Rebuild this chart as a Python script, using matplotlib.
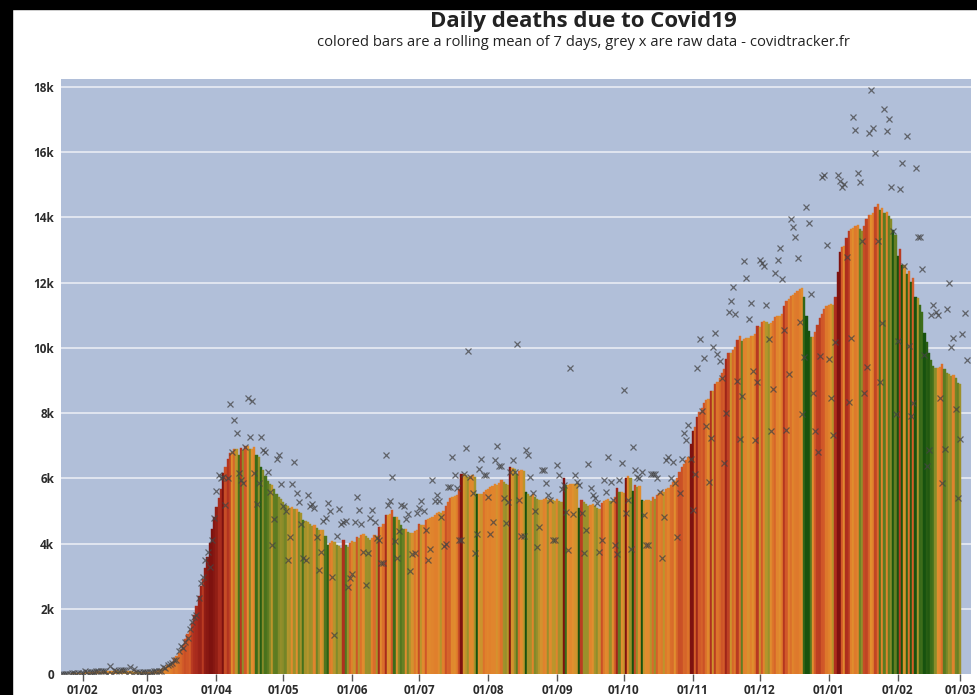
import pandas as pd
import numpy as np
import matplotlib
matplotlib.use("Agg")
import matplotlib.pyplot as plt
import matplotlib.dates as mdates
from matplotlib.colors import LinearSegmentedColormap, Normalize
from matplotlib.patches import Rectangle

# Raw daily deaths (worldwide), one list per month
jan20 = [17, 1, 8, 16, 14, 26, 49, 2, 38, 42]  # from 22/01
feb20 = [46, 103, 64, 66, 72, 70, 85, 87, 100, 107, 100, 5, 254, 13, 143, 107, 100, 136, 115, 125,
         4, 207, 11, 160, 80, 62, 45, 57, 64]
mar20 = [58, 69, 72, 85, 95, 104, 102, 230, 200, 280, 320, 350, 440, 420, 700, 860, 800, 1000, 1100,
         1400, 1600, 1760, 1800, 2320, 2780, 2990, 3500, 3750, 3300, 4110, 4790]
apr20 = [5600, 6100, 6000, 6050, 5180, 6000, 8280, 6815, 7790, 7400, 6160, 5950, 5850, 6970, 8470,
         7275, 8380, 6160, 5230, 5850, 7275, 6870, 6815, 6200, 5590, 3960, 4750, 6590, 6710, 5825]
may20 = [5150, 5000, 3500, 4210, 5825, 6490, 5550, 5290, 4600, 3560, 3500, 5490, 5160, 5230, 5100,
         4190, 3190, 3750, 4700, 4790, 5250, 5000, 2990, 1200, 4240, 5050, 4600, 4650, 4700, 2680, 2950]
jun20 = [3060, 4670, 5440, 5030, 4590, 3740, 2730, 3700, 4780, 5030, 4650, 4170, 4100, 3420, 3400,
         6710, 5180, 5300, 6050, 4070, 3550, 4400, 5200, 5150, 4750, 4900, 3170, 3680, 3700, 4930]
jul20 = [5090, 5300, 5000, 4420, 3500, 3850, 5950, 5300, 5500, 5300, 4830, 3930, 4000, 5730, 5730,
         6660, 6100, 5700, 4100, 4100, 6150, 6940, 9900, 6050, 5540, 3700, 4300, 6300, 6610, 6100, 6100]
aug20 = [5440, 4310, 4670, 6560, 6990, 6380, 6380, 5390, 4620, 5290, 6200, 6560, 6200, 10130, 5340,
         4240, 4240, 6870, 6720, 6050, 5540, 5000, 3900, 4500, 6260, 6260, 5870, 5490, 5340, 4100, 4100]
sep20 = [6410, 6100, 5690, 5800, 4980, 3800, 9370, 4900, 6100, 5900, 5800, 4930, 3700, 4420, 6430,
         5700, 5500, 5400, 5240, 3750, 4110, 5950, 5590, 6660, 5900, 5340, 3960, 3680, 5950, 6460]
oct20 = [8700, 4930, 5340, 3850, 6950, 6260, 6050, 6000, 6200, 4875, 3950, 3950, 6150, 6150, 6150,
         6000, 5590, 3550, 4830, 6560, 6660, 6000, 6500, 5850, 4210, 5540, 6600, 7390, 7180, 7645, 6610]
nov20 = [5030, 6125, 9370, 10280, 8060, 9680, 7614, 5890, 7250, 10020, 10470, 9820, 9610, 9090, 6460,
         7990, 11090, 11440, 11880, 11040, 8990, 7210, 8525, 12660, 12140, 10900, 11390, 9300, 7180, 8940]
dec20 = [12700, 12600, 12500, 11300, 10280, 7460, 8730, 12290, 12700, 13050, 12100, 10540, 7490, 9200,
         13950, 13710, 13400, 12760, 10800, 7960, 9710, 14310, 13820, 11650, 8630, 7440, 6800, 9760,
         15250, 15290, 13150]
jan21 = [9670, 8450, 7320, 10170, 15290, 15110, 14930, 15020, 12790, 8330, 10290, 17080, 16680, 15350,
         15090, 13270, 8630, 9400, 16600, 17890, 16740, 15980, 13270, 8960, 10770, 17310, 16640, 17020,
         14935, 13570, 7970]
feb21 = [10200, 14875, 15680, 12500, 16480, 10060, 7910, 8300, 15500, 13410, 13410, 12430, 9790, 6370,
         6870, 11000, 11300, 11100, 11000, 8470, 5850, 6900, 11190, 11980, 10030, 10290, 8120, 5390]
mar21 = [7220, 10440, 11070, 9640]

start_date = "2020-01-22"
y_ticks = [0, 2000, 4000, 6000, 8000, 10000, 12000, 14000, 16000, 18000]
y_labels = ["0", "2k", "4k", "6k", "8k", "10k", "12k", "14k", "16k", "18k"]

raw = (jan20 + feb20 + mar20 + apr20 + may20 + jun20 + jul20 + aug20 + sep20 + oct20
       + nov20 + dec20 + jan21 + feb21 + mar21)
dates = pd.date_range(start_date, periods=len(raw), freq="D")
s = pd.Series(raw, index=dates, dtype=float)

# 7-day centred rolling mean -> bars; colour = daily change of the mean
mean = s.rolling(7, center=True).mean()
change = mean.diff().fillna(0)
ok = mean.notna()

cmap = LinearSegmentedColormap.from_list(
    "trend",
    [(0.0, "#17520e"), (0.237, "#3f6e1a"), (0.382, "#7f8a2a"), (0.467, "#b8962c"),
     (0.5, "#e0902f"), (0.579, "#e07f2c"), (0.684, "#d25a29"), (0.829, "#b0301f"),
     (1.0, "#7e120f")])
norm = Normalize(-380, 380)
colors = [cmap(norm(v)) for v in change[ok]]

fig = plt.figure(figsize=(9.77, 6.95), dpi=100, facecolor="white")
ax = fig.add_axes([61 / 977, 20.8 / 695, 910 / 977, 595.2 / 695])
ax.set_facecolor("#b1bfd9")

for yv in y_ticks[1:]:
    ax.axhline(yv, color="#e4e9f2", lw=1.3, zorder=1)

ax.bar(mean.index[ok], mean[ok], width=1.0, color=colors, edgecolor=colors,
       linewidth=0.3, zorder=2)
ax.plot(s.index, s.values, linestyle="none", marker="x", markersize=5,
        markeredgewidth=0.9, color="#444444", alpha=0.75, zorder=3)

x0 = pd.Timestamp("2020-02-01")
ax.set_xlim(x0 - pd.Timedelta(days=9.84), x0 + pd.Timedelta(days=398.9))
ax.set_ylim(0, 18240)

month_starts = pd.date_range("2020-02-01", "2021-03-01", freq="MS")
ax.set_xticks(month_starts)
ax.xaxis.set_major_formatter(mdates.DateFormatter("%d/%m"))
ax.set_yticks(y_ticks)
ax.set_yticklabels(y_labels)

for sp in ax.spines.values():
    sp.set_visible(False)
ax.tick_params(axis="x", length=5, width=1, color="#555555", pad=2,
               labelsize=8.5, labelcolor="#2b2b2b")
ax.tick_params(axis="y", length=0, pad=5, labelsize=8.5, labelcolor="#2b2b2b")
for lab in ax.get_xticklabels() + ax.get_yticklabels():
    lab.set_fontfamily("Open Sans")
    lab.set_fontweight("bold")

fig.text(583 / 977, 1 - 21 / 695, "Daily deaths due to Covid19", ha="center", va="center",
         fontsize=16, fontweight="bold", family="Open Sans", color="#222222")
fig.text(583 / 977, 1 - 42 / 695,
         "colored bars are a rolling mean of 7 days, grey x are raw data - covidtracker.fr",
         ha="center", va="center", fontsize=10.6, family="Open Sans", color="#222222")

# black frame visible on the screenshot's left and top edges
fig.patches.append(Rectangle((0, 0), 12 / 977, 1, transform=fig.transFigure,
                             color="black", zorder=10))
fig.patches.append(Rectangle((0, 1 - 9 / 695), 1, 9 / 695, transform=fig.transFigure,
                             color="black", zorder=10))

fig.savefig("out.png", dpi=100, facecolor="white")
